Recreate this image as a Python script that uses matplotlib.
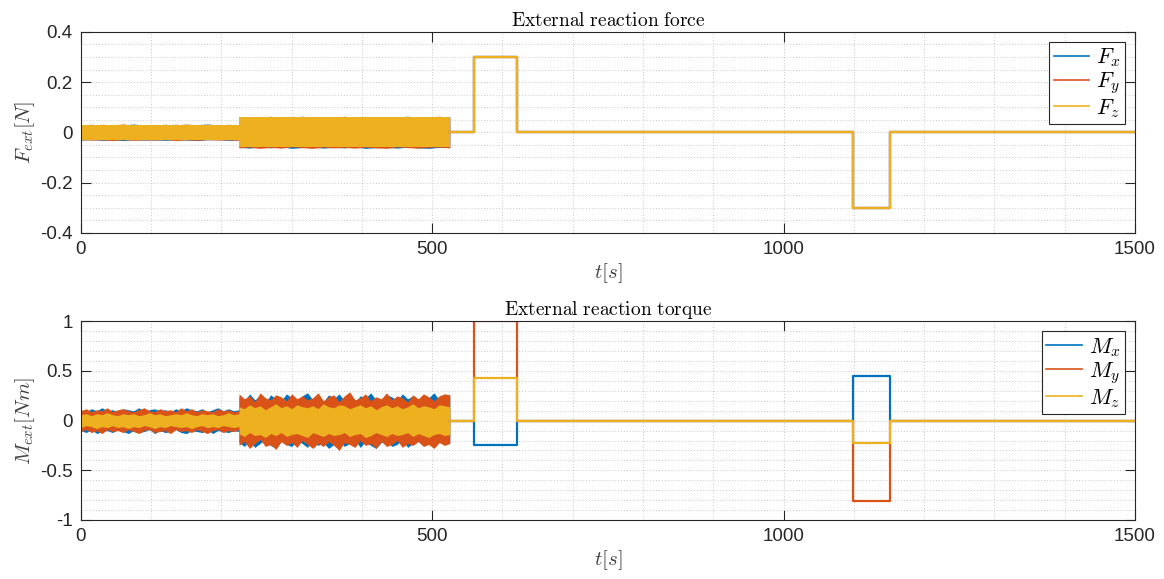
import matplotlib
matplotlib.use("Agg")
import matplotlib.pyplot as plt
from matplotlib.ticker import MultipleLocator
import numpy as np

plt.rcParams['font.family'] = ['Liberation Sans', 'DejaVu Sans']
plt.rcParams['mathtext.fontset'] = 'cm'

# MATLAB default line colours
c_x, c_y, c_z = '#0072BD', '#D95319', '#EDB120'

# noisy part of the force: envelope read every 15 s (225 s listed twice, the jump)
t_force = list(np.arange(0, 225.1, 15)) + list(np.arange(225, 525.1, 15))

Fx_hi = [0.030, 0.032, 0.029, 0.031, 0.030, 0.033, 0.029, 0.031, 0.030, 0.032, 0.029, 0.031, 0.033, 0.030, 0.031, 0.030,
         0.061, 0.058, 0.063, 0.060, 0.062, 0.059, 0.064, 0.060, 0.061, 0.063, 0.058, 0.062, 0.060, 0.063, 0.059, 0.061,
         0.064, 0.060, 0.062, 0.059, 0.061]
Fx_lo = [-0.031, -0.029, -0.032, -0.030, -0.033, -0.029, -0.031, -0.030, -0.032, -0.029, -0.031, -0.033, -0.030, -0.029, -0.032, -0.030,
         -0.060, -0.063, -0.059, -0.062, -0.058, -0.064, -0.061, -0.059, -0.063, -0.060, -0.062, -0.058, -0.064, -0.061, -0.060, -0.063,
         -0.059, -0.062, -0.064, -0.060, -0.061]
Fy_hi = [0.031, 0.029, 0.032, 0.030, 0.033, 0.029, 0.031, 0.030, 0.032, 0.029, 0.033, 0.030, 0.031, 0.029, 0.032, 0.030,
         0.059, 0.062, 0.060, 0.064, 0.058, 0.061, 0.063, 0.059, 0.062, 0.060, 0.064, 0.058, 0.061, 0.063, 0.060, 0.062,
         0.059, 0.063, 0.061, 0.064, 0.060]
Fy_lo = [-0.029, -0.031, -0.030, -0.033, -0.029, -0.032, -0.030, -0.031, -0.029, -0.033, -0.030, -0.032, -0.029, -0.031, -0.030, -0.032,
         -0.062, -0.059, -0.064, -0.060, -0.063, -0.058, -0.061, -0.064, -0.059, -0.062, -0.060, -0.063, -0.059, -0.062, -0.064, -0.058,
         -0.061, -0.063, -0.060, -0.059, -0.062]
Fz_hi = [0.029] * 16 + [0.059] * 21
Fz_lo = [-0.029] * 16 + [-0.059] * 21

# noisy part of the torque: envelope read every 7.5 s (225 s listed twice)
t_torque = list(np.arange(0, 225.1, 7.5)) + list(np.arange(225, 525.1, 7.5))

Mx_hi = [0.11, 0.09, 0.12, 0.10, 0.13, 0.10, 0.11, 0.09, 0.12, 0.11,
         0.10, 0.13, 0.09, 0.11, 0.12, 0.10, 0.11, 0.09, 0.12, 0.10,
         0.13, 0.11, 0.10, 0.12, 0.09, 0.11, 0.13, 0.10, 0.12, 0.10,
         0.11,
         0.24, 0.19, 0.27, 0.21, 0.25, 0.18, 0.26, 0.22, 0.20, 0.27,
         0.23, 0.19, 0.25, 0.28, 0.21, 0.24, 0.19, 0.26, 0.22, 0.27,
         0.20, 0.24, 0.18, 0.25, 0.23, 0.28, 0.21, 0.19, 0.26, 0.24,
         0.20, 0.27, 0.22, 0.25, 0.19, 0.26, 0.23, 0.28, 0.21, 0.24,
         0.25]
Mx_lo = [-0.10, -0.12, -0.09, -0.13, -0.11, -0.10, -0.12, -0.09, -0.11, -0.13,
         -0.10, -0.12, -0.11, -0.09, -0.13, -0.10, -0.12, -0.11, -0.09, -0.12,
         -0.13, -0.10, -0.11, -0.12, -0.09, -0.13, -0.10, -0.11, -0.12, -0.10,
         -0.11,
         -0.22, -0.26, -0.20, -0.27, -0.23, -0.19, -0.25, -0.28, -0.21, -0.24,
         -0.26, -0.20, -0.23, -0.27, -0.19, -0.25, -0.22, -0.28, -0.24, -0.20,
         -0.26, -0.23, -0.19, -0.27, -0.21, -0.25, -0.28, -0.22, -0.20, -0.26,
         -0.24, -0.19, -0.27, -0.23, -0.21, -0.25, -0.22, -0.26, -0.20, -0.24,
         -0.22]
My_hi = [0.10, 0.12, 0.09, 0.11, 0.10, 0.13, 0.09, 0.11, 0.12, 0.10,
         0.09, 0.11, 0.13, 0.10, 0.09, 0.12, 0.10, 0.11, 0.09, 0.13,
         0.10, 0.12, 0.09, 0.11, 0.10, 0.09, 0.12, 0.10, 0.11, 0.09,
         0.10,
         0.27, 0.22, 0.25, 0.19, 0.28, 0.23, 0.21, 0.26, 0.24, 0.20,
         0.27, 0.22, 0.25, 0.21, 0.23, 0.28, 0.20, 0.24, 0.26, 0.19,
         0.25, 0.29, 0.21, 0.23, 0.27, 0.20, 0.24, 0.22, 0.28, 0.21,
         0.25, 0.23, 0.19, 0.26, 0.22, 0.27, 0.24, 0.20, 0.25, 0.27,
         0.26]
My_lo = [-0.11, -0.09, -0.12, -0.10, -0.13, -0.09, -0.11, -0.10, -0.12, -0.09,
         -0.11, -0.13, -0.10, -0.09, -0.12, -0.11, -0.10, -0.13, -0.09, -0.11,
         -0.10, -0.12, -0.09, -0.11, -0.13, -0.10, -0.09, -0.12, -0.10, -0.11,
         -0.09,
         -0.25, -0.21, -0.28, -0.23, -0.19, -0.26, -0.24, -0.29, -0.21, -0.25,
         -0.22, -0.27, -0.20, -0.24, -0.28, -0.23, -0.26, -0.21, -0.25, -0.30,
         -0.22, -0.24, -0.27, -0.20, -0.25, -0.23, -0.28, -0.21, -0.26, -0.24,
         -0.20, -0.27, -0.23, -0.25, -0.21, -0.26, -0.24, -0.28, -0.22, -0.25,
         -0.23]
Mz_hi = [0.06, 0.07, 0.05, 0.07, 0.06, 0.08, 0.06, 0.05, 0.07, 0.06,
         0.07, 0.05, 0.06, 0.08, 0.06, 0.07, 0.05, 0.06, 0.07, 0.06,
         0.08, 0.06, 0.05, 0.07, 0.06, 0.07, 0.05, 0.06, 0.08, 0.06,
         0.07,
         0.14, 0.12, 0.16, 0.13, 0.15, 0.11, 0.14, 0.17, 0.13, 0.15,
         0.12, 0.16, 0.14, 0.13, 0.15, 0.12, 0.17, 0.14, 0.13, 0.16,
         0.15, 0.12, 0.14, 0.16, 0.13, 0.15, 0.11, 0.14, 0.16, 0.13,
         0.15, 0.12, 0.14, 0.17, 0.13, 0.15, 0.14, 0.12, 0.16, 0.15,
         0.14]
Mz_lo = [-0.07, -0.05, -0.06, -0.08, -0.06, -0.07, -0.05, -0.07, -0.06, -0.08,
         -0.06, -0.07, -0.05, -0.06, -0.08, -0.06, -0.07, -0.05, -0.06, -0.07,
         -0.06, -0.08, -0.06, -0.05, -0.07, -0.06, -0.07, -0.05, -0.06, -0.07,
         -0.06,
         -0.13, -0.16, -0.12, -0.15, -0.14, -0.17, -0.13, -0.15, -0.12, -0.16,
         -0.14, -0.13, -0.15, -0.17, -0.12, -0.14, -0.16, -0.13, -0.15, -0.14,
         -0.12, -0.16, -0.14, -0.13, -0.17, -0.15, -0.12, -0.14, -0.16, -0.13,
         -0.15, -0.14, -0.12, -0.16, -0.13, -0.15, -0.17, -0.14, -0.13, -0.15,
         -0.14]

# clean part: piecewise constant levels after the noise
t_steps = [525, 560, 621, 1099, 1151, 1500]
Fx_lev = [0, 0.3, 0, -0.3, 0, 0]
Fy_lev = [0, 0.3, 0, -0.3, 0, 0]
Fz_lev = [0, 0.3, 0, -0.3, 0, 0]
Mx_lev = [0, -0.25, 0, 0.45, 0, 0]
My_lev = [0, 1.0, 0, -0.81, 0, 0]
Mz_lev = [0, 0.43, 0, -0.23, 0, 0]

fig = plt.figure(figsize=(11.64, 5.79), dpi=100)
ax1 = fig.add_axes([0.0695, 0.598, 0.9055, 0.347])
ax2 = fig.add_axes([0.0695, 0.102, 0.9055, 0.343])

grid_col = '#c8c8c8'
tick_col = '#262626'


def style(ax, ylim, ymaj, ymin):
    ax.set_xlim(0, 1500)
    ax.set_ylim(*ylim)
    ax.xaxis.set_major_locator(MultipleLocator(500))
    ax.xaxis.set_minor_locator(MultipleLocator(100))
    ax.yaxis.set_major_locator(MultipleLocator(ymaj))
    ax.yaxis.set_minor_locator(MultipleLocator(ymin))
    ax.grid(which='both', color=grid_col, linestyle=(0, (1, 2)), linewidth=0.7)
    ax.tick_params(which='major', direction='in', length=7, width=0.8, top=True, right=True,
                   labelsize=13.5, colors=tick_col, pad=6)
    ax.tick_params(which='minor', length=0, top=True, right=True)
    for s in ax.spines.values():
        s.set_color(tick_col)
        s.set_linewidth(0.8)
    ax.set_axisbelow(True)


def fmt(v, pos):
    if abs(v) < 1e-9:
        return '0'
    return '%g' % v


# force
for hi, lo, lev, col, lab in [(Fx_hi, Fx_lo, Fx_lev, c_x, r'$F_x$'),
                              (Fy_hi, Fy_lo, Fy_lev, c_y, r'$F_y$'),
                              (Fz_hi, Fz_lo, Fz_lev, c_z, r'$F_z$')]:
    ax1.fill_between(t_force, lo, hi, color=col, linewidth=0)
    ax1.plot(t_steps, lev, drawstyle='steps-post', color=col, lw=1.6, label=lab)

# torque
for hi, lo, lev, col, lab in [(Mx_hi, Mx_lo, Mx_lev, c_x, r'$M_x$'),
                              (My_hi, My_lo, My_lev, c_y, r'$M_y$'),
                              (Mz_hi, Mz_lo, Mz_lev, c_z, r'$M_z$')]:
    ax2.fill_between(t_torque, lo, hi, color=col, linewidth=0)
    ax2.plot(t_steps, lev, drawstyle='steps-post', color=col, lw=1.6, label=lab)

style(ax1, (-0.4, 0.4), 0.2, 0.05)
style(ax2, (-1, 1), 0.5, 0.1)
for ax in (ax1, ax2):
    ax.yaxis.set_major_formatter(plt.FuncFormatter(fmt))
    ax.xaxis.set_major_formatter(plt.FuncFormatter(fmt))

ax1.set_title(r'$\mathrm{External\ reaction\ force}$', fontsize=14, pad=4)
ax2.set_title(r'$\mathrm{External\ reaction\ torque}$', fontsize=14, pad=4)
ax1.set_ylabel(r'$F_{ext}[N]$', fontsize=15, color='#404040', labelpad=2)
ax2.set_ylabel(r'$M_{ext}[Nm]$', fontsize=15, color='#404040', labelpad=2)
ax1.set_xlabel(r'$t[s]$', fontsize=15, color='#404040', labelpad=2)
ax2.set_xlabel(r'$t[s]$', fontsize=15, color='#404040', labelpad=2)

for ax in (ax1, ax2):
    leg = ax.legend(loc='upper right', fontsize=16, frameon=True, fancybox=False,
                    handlelength=1.6, handletextpad=0.3, borderpad=0.2, labelspacing=0.05,
                    borderaxespad=0.45)
    leg.get_frame().set_edgecolor('#262626')
    leg.get_frame().set_linewidth(0.8)
    leg.get_frame().set_alpha(1)
    for h in leg.get_lines():
        h.set_linewidth(1.2)

fig.savefig('out.png', dpi=100)
